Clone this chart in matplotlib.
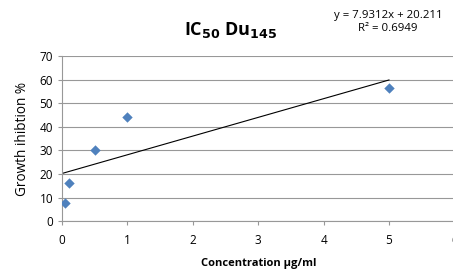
import matplotlib

matplotlib.use("Agg")
import matplotlib.pyplot as plt
import numpy as np

plt.rcParams["font.family"] = ["Open Sans", "DejaVu Sans"]

# data
conc = [0.05, 0.1, 0.5, 1.0, 5.0]
inhibition = [7.5, 16.0, 30.0, 44.0, 56.5]
slope, intercept = 7.9312, 20.211
r2 = 0.6949
x_ticks = [0, 1, 2, 3, 4, 5, 6]
y_ticks = [0, 10, 20, 30, 40, 50, 60, 70]

BLUE = "#4F81BD"
GRID = "#989898"

fig = plt.figure(figsize=(4.53, 2.75), dpi=100)
ax = fig.add_axes([0.137, 0.196, 0.866, 0.6])

ax.scatter(conc, inhibition, marker="D", s=28, color=BLUE, zorder=3, linewidths=0)
xs = np.array([0, max(conc)])
ax.plot(xs, slope * xs + intercept, color="black", lw=0.8, zorder=2)

ax.set_xlim(0, 6)
ax.set_ylim(0, 70)
ax.set_xticks(x_ticks)
ax.set_yticks(y_ticks)
ax.yaxis.grid(True, color=GRID, lw=0.8)
ax.set_axisbelow(True)
for s in ["top", "right"]:
    ax.spines[s].set_visible(False)
for s in ["left", "bottom"]:
    ax.spines[s].set_color(GRID)
ax.tick_params(colors=GRID, labelcolor="black", labelsize=8.5, length=3)
ax.tick_params(axis="x", pad=6)

ax.set_xlabel("Concentration µg/ml", fontsize=8, fontweight="bold", labelpad=8)
ax.set_ylabel("Growth ihibtion %", fontsize=9.8, labelpad=7)

fig.text(0.51, 0.89, r"IC$_{\mathbf{50}}$ Du$_{\mathbf{145}}$", fontsize=13,
         fontweight="bold", ha="center", va="center")
fig.text(0.857, 0.92, f"y = {slope}x + {intercept}\nR² = {r2}", fontsize=8.2,
         ha="center", va="center", linespacing=1.2)

fig.savefig("out.png", dpi=100)
